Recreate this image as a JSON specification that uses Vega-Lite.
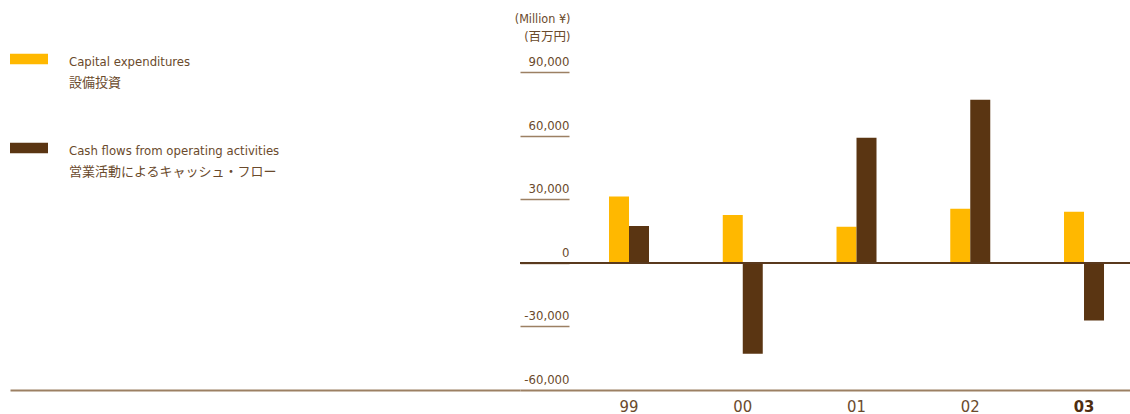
{
  "$schema": "https://vega.github.io/schema/vega-lite/v6.json",
  "autosize": "none",
  "width": 610,
  "height": 318,
  "padding": {"left": 520, "top": 72, "right": 0, "bottom": 24},
  "background": "white",
  "config": {
    "view": {"stroke": null},
    "font": "DejaVu Sans Condensed, Noto Sans CJK JP, sans-serif"
  },
  "data": {
    "values": [
      {"year": "99", "series": "Capital expenditures", "value": 31300},
      {"year": "99", "series": "Cash flows from operating activities", "value": 17400},
      {"year": "00", "series": "Capital expenditures", "value": 22600},
      {"year": "00", "series": "Cash flows from operating activities", "value": -42900},
      {"year": "01", "series": "Capital expenditures", "value": 17000},
      {"year": "01", "series": "Cash flows from operating activities", "value": 59000},
      {"year": "02", "series": "Capital expenditures", "value": 25500},
      {"year": "02", "series": "Cash flows from operating activities", "value": 76900},
      {"year": "03", "series": "Capital expenditures", "value": 24100},
      {"year": "03", "series": "Cash flows from operating activities", "value": -27200}
    ]
  },
  "layer": [
    {
      "mark": {"type": "bar"},
      "encoding": {
        "x": {
          "field": "year",
          "type": "nominal",
          "sort": ["99", "00", "01", "02", "03"],
          "scale": {"paddingInner": 0.6484, "paddingOuter": 0.5055, "align": 0.774},
          "axis": {
            "title": null,
            "ticks": false,
            "domain": true,
            "domainColor": "#9c8063",
            "domainWidth": 2,
            "labelAngle": 0,
            "labelFontSize": 16.5,
            "labelPadding": 8,
            "labelColor": {"condition": {"test": "datum.value == '03'", "value": "#4e2d10"}, "value": "#6a4a2c"},
            "labelFontWeight": {"condition": {"test": "datum.value == '03'", "value": "bold"}, "value": "normal"}
          }
        },
        "xOffset": {
          "field": "series",
          "type": "nominal",
          "sort": ["Capital expenditures", "Cash flows from operating activities"],
          "scale": {"paddingInner": 0, "paddingOuter": 0}
        },
        "y": {
          "field": "value",
          "type": "quantitative",
          "scale": {"domain": [-60000, 90000], "nice": false, "zero": false},
          "axis": {
            "values": [-60000, -30000, 0, 30000, 60000, 90000],
            "format": ",d",
            "labelExpr": "replace(datum.label, '\u2212', '-')",
            "domain": false,
            "grid": false,
            "tickSize": {"condition": {"test": "datum.value == -60000", "value": 510}, "value": -49},
            "tickWidth": {"condition": {"test": "datum.value == -60000", "value": 2}, "value": 1.5},
            "tickColor": "#9c8063",
            "labelPadding": {"condition": {"test": "datum.value == -60000", "value": -559}, "value": 0},
            "labelAlign": "right",
            "labelBaseline": "alphabetic",
            "labelOffset": -6.5,
            "labelFontSize": 13,
            "labelColor": "#6a4a2c",
            "title": ["(Million ¥)", "(百万円)"],
            "titleAngle": 0,
            "titleAlign": "right",
            "titleBaseline": "alphabetic",
            "titleX": 50,
            "titleY": -50,
            "titleFontSize": 12.5,
            "titleFontWeight": "normal",
            "titleColor": "#6a4a2c",
            "titleLineHeight": 18
          }
        },
        "color": {
          "field": "series",
          "type": "nominal",
          "scale": {
            "domain": ["Capital expenditures", "Cash flows from operating activities"],
            "range": ["#FFB800", "#5A3512"]
          },
          "legend": {
            "title": null,
            "orient": "none",
            "legendX": -510,
            "legendY": -32,
            "direction": "vertical",
            "padding": 0,
            "symbolType": "M-1,-0.28H1V0.28H-1Z",
            "symbolSize": 1444,
            "symbolStrokeWidth": 0,
            "symbolOpacity": 1,
            "labelOffset": 21,
            "labelLimit": 500,
            "labelFontSize": 13,
            "labelColor": "#6a4a2c",
            "labelBaseline": "top",
            "rowPadding": 39,
            "labelExpr": "[datum.label, datum.label == 'Capital expenditures' ? '設備投資' : '営業活動によるキャッシュ・フロー']",
            "encode": {"labels": {"update": {"lineHeight": {"value": 21}, "dy": {"value": -3}}}}
          }
        }
      }
    },
    {
      "mark": {"type": "rule", "color": "#5a3a1e", "strokeWidth": 1.2},
      "encoding": {"y": {"datum": 0}}
    }
  ]
}
